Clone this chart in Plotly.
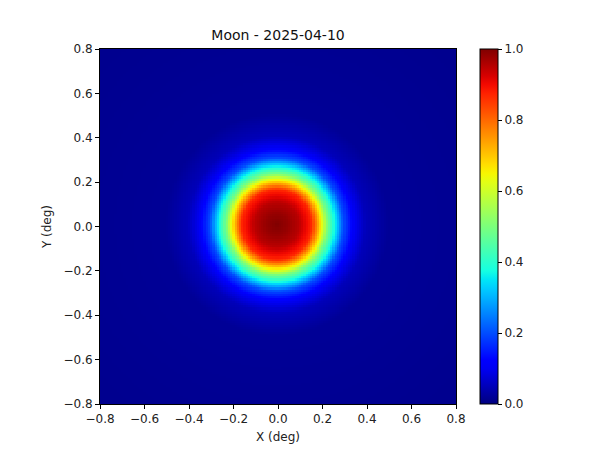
import numpy as np
import plotly.graph_objects as go

# Radial brightness profile of the lunar disk
profile_r = [0.00, 0.05, 0.10, 0.157, 0.18, 0.205, 0.227, 0.26, 0.30, 0.35, 0.40, 0.50, 1.20]
profile_v = [1.00, 0.98, 0.95, 0.87, 0.76, 0.63, 0.50, 0.37, 0.20, 0.10, 0.05, 0.02, 0.012]
center_x = -0.005
center_y = 0.008

x_vals = np.round(np.arange(-0.8, 0.8001, 0.01), 3)
y_vals = np.round(np.arange(-0.8, 0.8001, 0.01), 3)
XX, YY = np.meshgrid(x_vals, y_vals)
RR = np.sqrt((XX - center_x) ** 2 + (YY - center_y) ** 2)
Z = np.interp(RR, profile_r, profile_v)

tick_vals = [-0.8, -0.6, -0.4, -0.2, 0.0, 0.2, 0.4, 0.6, 0.8]
cbar_ticks = [0.0, 0.2, 0.4, 0.6, 0.8, 1.0]

# matplotlib 'jet' colormap
def seg(x, pts):
    xs = [p[0] for p in pts]
    ys = [p[1] for p in pts]
    return float(np.interp(x, xs, ys))

red = [(0, 0), (0.35, 0), (0.66, 1), (0.89, 1), (1, 0.5)]
green = [(0, 0), (0.125, 0), (0.375, 1), (0.64, 1), (0.91, 0), (1, 0)]
blue = [(0, 0.5), (0.11, 1), (0.34, 1), (0.65, 0), (1, 0)]
jet = []
for s in np.linspace(0, 1, 41):
    r, g, b = seg(s, red), seg(s, green), seg(s, blue)
    jet.append([float(s), f"rgb({int(round(r*255))},{int(round(g*255))},{int(round(b*255))})"])

font = dict(family="DejaVu Sans", size=12, color="#222")

# page body has an 8px offset; plot area target in page: x 100-456, y 49-404
L, T = 92, 41
PW, PH = 356, 355

fig = go.Figure(go.Heatmap(
    x=x_vals, y=y_vals, z=Z,
    colorscale=jet, zmin=0, zmax=1, zsmooth=False,
    colorbar=dict(
        x=(472 - L - 10) / PW, xanchor="left", y=0.5, yanchor="middle", len=1.0, lenmode="fraction",
        ypad=0, thickness=18, thicknessmode="pixels",
        outlinecolor="black", outlinewidth=1,
        tickvals=cbar_ticks, tickformat=".1f", ticks="outside", ticklen=4,
        tickcolor="black", tickfont=font,
    ),
))

axis_common = dict(
    tickvals=tick_vals, tickformat=".1f", ticks="outside", ticklen=4, tickcolor="black",
    showline=True, linecolor="black", linewidth=1, mirror=True,
    showgrid=False, zeroline=False, tickfont=font,
)

fig.update_layout(
    width=600, height=450,
    margin=dict(l=L, r=600 - L - PW, t=T, b=450 - T - PH),
    paper_bgcolor="white", plot_bgcolor="white",
    title=dict(text="Moon - 2025-04-10", x=0.5, xref="paper", xanchor="center",
               y=1 - 27 / 450, yanchor="middle",
               font=dict(family="DejaVu Sans", size=14, color="#111")),
    xaxis=dict(range=[-0.8, 0.8], title=dict(text="X (deg)", font=font, standoff=7), **axis_common),
    yaxis=dict(range=[-0.8, 0.8], title=dict(text="Y (deg)", font=font, standoff=9), **axis_common),
    font=font,
)

fig.write_html("out.html")
